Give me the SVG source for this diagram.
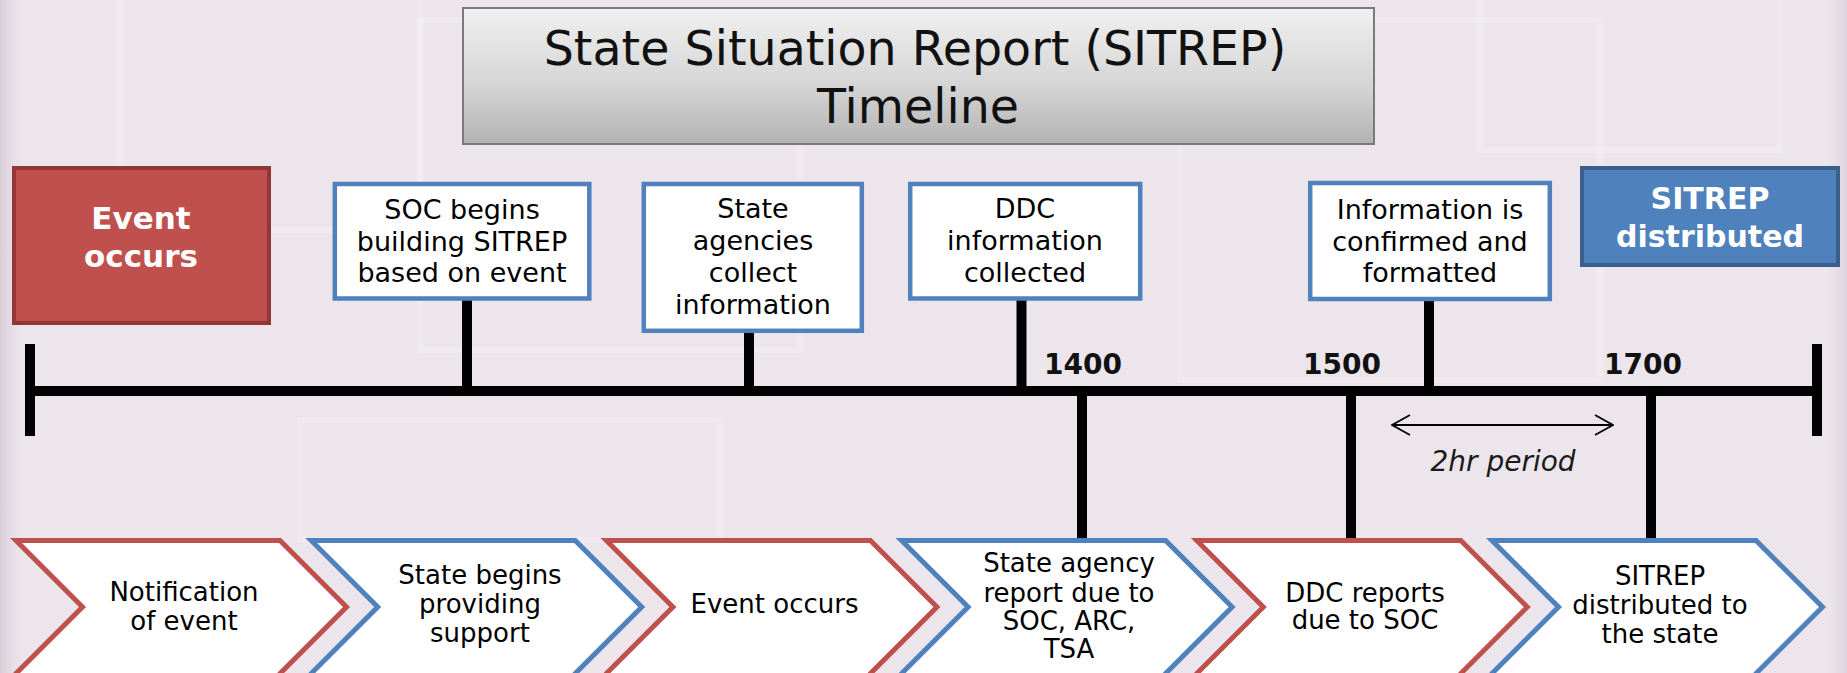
<svg xmlns="http://www.w3.org/2000/svg" width="1847" height="673" viewBox="0 0 1847 673">
<defs>
<linearGradient id="titleGrad" x1="0" y1="0" x2="0" y2="1">
<stop offset="0" stop-color="#f0f0f0"/>
<stop offset="0.55" stop-color="#d6d6d6"/>
<stop offset="1" stop-color="#b3b3b3"/>
</linearGradient>
<linearGradient id="leftBand" x1="0" y1="0" x2="1" y2="0">
<stop offset="0" stop-color="#d6ccd6"/>
<stop offset="1" stop-color="#ece6ec" stop-opacity="0"/>
</linearGradient>
<linearGradient id="rightBand" x1="1" y1="0" x2="0" y2="0">
<stop offset="0" stop-color="#dcd3dc"/>
<stop offset="1" stop-color="#ece6ec" stop-opacity="0"/>
</linearGradient>
<marker id="openArrow" viewBox="0 0 20 22" refX="19" refY="11" markerWidth="20" markerHeight="22" markerUnits="userSpaceOnUse" orient="auto-start-reverse">
<path d="M1 1 L19 11 L1 21" fill="none" stroke="#000" stroke-width="1.8"/>
</marker>
<style>
.bg{fill:#ece6ec}
.ghost{fill:none;stroke:#ffffff;stroke-opacity:0.18;stroke-width:6}
.title{font-family:"DejaVu Sans",sans-serif;font-size:47.5px;fill:#111;text-anchor:middle}
.box{fill:#ffffff;stroke:#4f81bd;stroke-width:4.5}
.boxtxt{font-family:"DejaVu Sans",sans-serif;font-size:27px;fill:#000;text-anchor:middle}
.chevtxt{font-family:"DejaVu Sans",sans-serif;font-size:26px;fill:#000;text-anchor:middle}
.bold{font-family:"DejaVu Sans",sans-serif;font-weight:bold;fill:#ffffff;text-anchor:middle}
.time{font-family:"DejaVu Sans",sans-serif;font-weight:bold;font-size:28px;fill:#111;text-anchor:middle}
.stem{stroke:#000;stroke-width:10;fill:none}
.chevR{fill:#ffffff;stroke:#c0504d;stroke-width:5;stroke-linejoin:miter}
.chevB{fill:#ffffff;stroke:#4f81bd;stroke-width:5;stroke-linejoin:miter}
</style>
</defs>

<!-- background -->
<rect class="bg" x="0" y="0" width="1847" height="673"/>
<rect x="0" y="0" width="28" height="673" fill="url(#leftBand)"/>
<rect x="1822" y="0" width="25" height="673" fill="url(#rightBand)"/>
<rect class="ghost" x="120" y="-10" width="300" height="240"/>
<rect class="ghost" x="420" y="20" width="380" height="330"/>
<rect class="ghost" x="1180" y="20" width="420" height="360"/>
<rect class="ghost" x="300" y="420" width="420" height="120"/>
<rect class="ghost" x="1480" y="-10" width="300" height="160"/>

<!-- title -->
<g id="title">
<rect x="463" y="8" width="911" height="136" fill="url(#titleGrad)" stroke="#7a7a7a" stroke-width="2"/>
<text class="title" x="915" y="65">State Situation Report (SITREP)</text>
<text class="title" x="918" y="123">Timeline</text>
</g>

<!-- connectors -->
<g id="connectors">
<line class="stem" x1="25" y1="391" x2="1822" y2="391"/>
<line class="stem" x1="30" y1="344" x2="30" y2="436"/>
<line class="stem" x1="1817" y1="344" x2="1817" y2="436"/>
<line class="stem" x1="467" y1="299" x2="467" y2="391"/>
<line class="stem" x1="749" y1="331" x2="749" y2="391"/>
<line class="stem" x1="1021.5" y1="299" x2="1021.5" y2="391"/>
<line class="stem" x1="1429" y1="299" x2="1429" y2="391"/>
<line class="stem" x1="1082" y1="391" x2="1082" y2="540"/>
<line class="stem" x1="1351" y1="391" x2="1351" y2="540"/>
<line class="stem" x1="1651" y1="391" x2="1651" y2="540"/>
<line x1="1392" y1="425" x2="1613" y2="425" stroke="#000" stroke-width="1.8" marker-start="url(#openArrow)" marker-end="url(#openArrow)"/>
</g>

<!-- time labels -->
<g id="label-1400"><text class="time" x="1083" y="374">1400</text></g>
<g id="label-1500"><text class="time" x="1342" y="374">1500</text></g>
<g id="label-1700"><text class="time" x="1643" y="374">1700</text></g>
<g id="label-2hr"><text x="1503" y="471" font-family="'DejaVu Sans',sans-serif" font-style="italic" font-size="28" fill="#1a1a1a" text-anchor="middle">2hr period</text></g>

<!-- top nodes -->
<g id="event-occurs-top">
<rect x="14" y="168" width="255" height="155" fill="#c0504d" stroke="#943634" stroke-width="4"/>
<text class="bold" font-size="31" x="141" y="229">Event</text>
<text class="bold" font-size="31" x="141" y="267">occurs</text>
</g>

<g id="soc-begins">
<rect class="box" x="334.8" y="184" width="254.5" height="114.5"/>
<text class="boxtxt" x="462" y="219">SOC begins</text>
<text class="boxtxt" x="462" y="250.5">building SITREP</text>
<text class="boxtxt" x="462" y="282">based on event</text>
</g>

<g id="state-agencies">
<rect class="box" x="643.8" y="184" width="218" height="146.8"/>
<text class="boxtxt" x="753" y="218">State</text>
<text class="boxtxt" x="753" y="250">agencies</text>
<text class="boxtxt" x="753" y="282">collect</text>
<text class="boxtxt" x="753" y="314">information</text>
</g>

<g id="ddc-info">
<rect class="box" x="910.2" y="184" width="230" height="114.5"/>
<text class="boxtxt" x="1025" y="218">DDC</text>
<text class="boxtxt" x="1025" y="250">information</text>
<text class="boxtxt" x="1025" y="282">collected</text>
</g>

<g id="info-confirmed">
<rect class="box" x="1310.2" y="183" width="239.6" height="116"/>
<text class="boxtxt" x="1430" y="219">Information is</text>
<text class="boxtxt" x="1430" y="250.5">confirmed and</text>
<text class="boxtxt" x="1430" y="282">formatted</text>
</g>

<g id="sitrep-distributed-top">
<rect x="1582" y="168" width="256" height="97" fill="#4f81bd" stroke="#3a5f8c" stroke-width="4"/>
<text class="bold" font-size="30" x="1710" y="209">SITREP</text>
<text class="bold" font-size="30" x="1710" y="247">distributed</text>
</g>

<!-- bottom chevrons -->
<g id="chev-notification">
<path class="chevR" d="M16 540.5 H280 L346.5 607 L280 673.5 L280 680 H16 V673.5 L82.5 607 Z"/>
<text class="chevtxt" x="184" y="601">Notification</text>
<text class="chevtxt" x="184" y="630">of event</text>
</g>

<g id="chev-state-begins">
<path class="chevB" d="M311.2 540.5 H575.2 L641.7 607 L575.2 673.5 L575.2 680 H311.2 V673.5 L377.7 607 Z"/>
<text class="chevtxt" x="480" y="584">State begins</text>
<text class="chevtxt" x="480" y="613">providing</text>
<text class="chevtxt" x="480" y="642">support</text>
</g>

<g id="chev-event-occurs">
<path class="chevR" d="M606.4 540.5 H870.4 L936.9 607 L870.4 673.5 L870.4 680 H606.4 V673.5 L672.9 607 Z"/>
<text class="chevtxt" x="774.5" y="613">Event occurs</text>
</g>

<g id="chev-state-agency-report">
<path class="chevB" d="M901.6 540.5 H1165.6 L1232.1 607 L1165.6 673.5 L1165.6 680 H901.6 V673.5 L968.1 607 Z"/>
<text class="chevtxt" x="1069" y="572">State agency</text>
<text class="chevtxt" x="1069" y="601.5">report due to</text>
<text class="chevtxt" x="1069" y="630">SOC, ARC,</text>
<text class="chevtxt" x="1069" y="657.5">TSA</text>
</g>

<g id="chev-ddc-reports">
<path class="chevR" d="M1196.8 540.5 H1460.8 L1527.3 607 L1460.8 673.5 L1460.8 680 H1196.8 V673.5 L1263.3 607 Z"/>
<text class="chevtxt" x="1365" y="601.5">DDC reports</text>
<text class="chevtxt" x="1365" y="629">due to SOC</text>
</g>

<g id="chev-sitrep-distributed">
<path class="chevB" d="M1492 540.5 H1756 L1822.5 607 L1756 673.5 L1756 680 H1492 V673.5 L1558.5 607 Z"/>
<text class="chevtxt" x="1660" y="585">SITREP</text>
<text class="chevtxt" x="1660" y="614">distributed to</text>
<text class="chevtxt" x="1660" y="642.5">the state</text>
</g>
</svg>
